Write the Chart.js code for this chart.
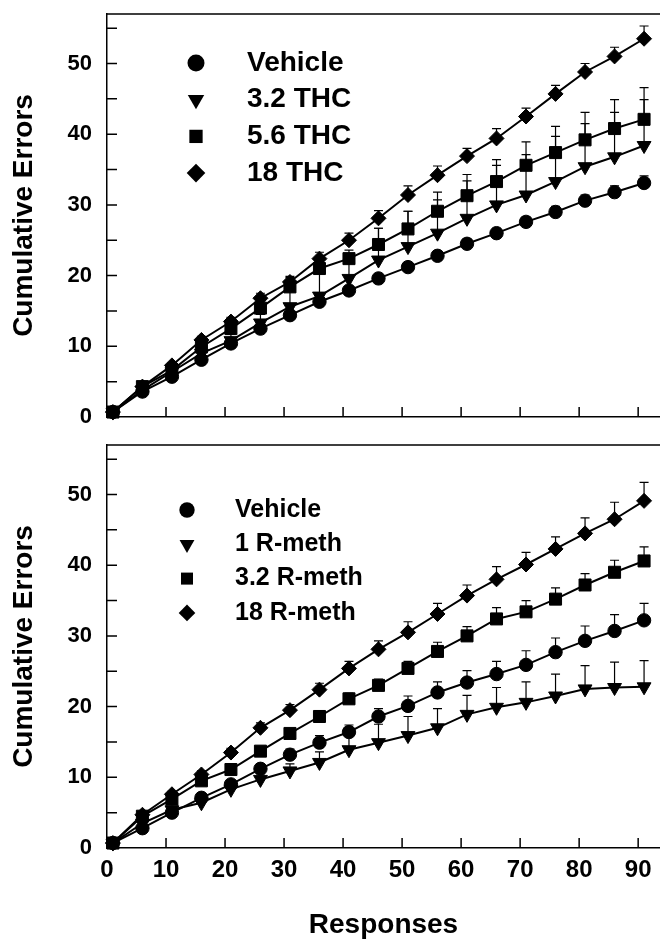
<!DOCTYPE html>
<html>
<head>
<meta charset="utf-8">
<script src="https://cdn.jsdelivr.net/npm/chart.js@4.4.1/dist/chart.umd.min.js"></script>
<style>
  html, body { margin: 0; padding: 0; background: #fff; }
  body { width: 660px; height: 945px; overflow: hidden; position: relative; }
  canvas { position: absolute; left: 0; }
  #topChart { top: 0; }
  #bottomChart { top: 430px; }
</style>
</head>
<body>
<canvas id="topChart" width="660" height="430"></canvas>
<canvas id="bottomChart" width="660" height="515"></canvas>
<script>
// x values: response number
const responses = [1, 6, 11, 16, 21, 26, 31, 36, 41, 46, 51, 56, 61, 66, 71, 76, 81, 86, 91];

// y axis range / tick step shared by both panels
const yMax = 57;
const yStep = 5;
const xMax = 93.7;
const xStep = 10;

// top panel: THC (mean cumulative errors, +SEM)
const thcLabels = ['Vehicle', '3.2 THC', '5.6 THC', '18 THC'];
const thcVehicle = [0.7, 3.6, 5.7, 8.1, 10.4, 12.5, 14.4, 16.3, 17.9, 19.6, 21.2, 22.8, 24.5, 26.0, 27.6, 29.0, 30.6, 31.8, 33.1];
const thc32 = [0.7, 3.8, 6.4, 9.0, 10.8, 13.3, 15.6, 17.1, 19.6, 22.2, 24.1, 26.0, 28.1, 30.0, 31.4, 33.3, 35.4, 36.8, 38.4];
const thc56 = [0.7, 4.3, 6.6, 9.9, 12.5, 15.4, 18.4, 21.0, 22.4, 24.4, 26.6, 29.1, 31.3, 33.3, 35.6, 37.4, 39.2, 40.8, 42.1];
const thc18 = [0.7, 4.3, 7.3, 10.9, 13.5, 16.8, 19.1, 22.4, 25.0, 28.1, 31.4, 34.2, 36.9, 39.4, 42.5, 45.7, 48.8, 51.0, 53.5];
const thcVehicleErr = [0.1, 0.2, 0.3, 0.3, 0.4, 0.4, 0.5, 0.5, 0.5, 0.6, 0.6, 0.6, 0.7, 0.7, 0.7, 0.8, 0.8, 0.9, 1.0];
const thc32Err = [0.2, 0.4, 0.5, 0.7, 0.9, 1.2, 2.5, 3.8, 3.0, 4.5, 5.0, 4.7, 5.3, 5.6, 5.7, 6.4, 6.1, 6.3, 6.5];
const thc56Err = [0.2, 0.4, 0.5, 0.7, 0.9, 1.1, 1.3, 1.0, 1.2, 2.3, 2.5, 2.7, 3.0, 3.1, 3.3, 3.7, 3.9, 4.1, 4.5];
const thc18Err = [0.2, 0.3, 0.4, 0.5, 0.6, 0.7, 0.8, 0.9, 1.0, 1.1, 1.3, 1.3, 1.1, 1.4, 1.2, 1.2, 1.2, 1.3, 1.8];

// bottom panel: R-methanandamide
const rmethLabels = ['Vehicle', '1 R-meth', '3.2 R-meth', '18 R-meth'];
const rVehicle = [0.7, 2.8, 5.0, 7.1, 9.0, 11.2, 13.2, 14.9, 16.4, 18.6, 20.1, 22.0, 23.4, 24.6, 25.9, 27.7, 29.3, 30.7, 32.2];
const r1 = [0.7, 3.5, 5.4, 6.4, 8.3, 9.7, 10.9, 12.1, 13.9, 14.9, 15.9, 17.0, 18.9, 19.9, 20.6, 21.5, 22.5, 22.7, 22.8];
const r32 = [0.7, 4.5, 6.9, 9.5, 11.1, 13.7, 16.2, 18.6, 21.1, 23.0, 25.4, 27.8, 30.0, 32.4, 33.4, 35.2, 37.2, 39.0, 40.6];
const r18 = [0.7, 4.7, 7.6, 10.4, 13.5, 17.0, 19.5, 22.4, 25.4, 28.1, 30.5, 33.1, 35.7, 38.0, 40.1, 42.3, 44.5, 46.5, 49.1];
const rVehicleErr = [0.2, 0.3, 0.4, 0.5, 0.6, 0.7, 0.8, 1.0, 1.0, 1.1, 1.4, 1.5, 1.7, 1.8, 2.0, 2.0, 2.1, 2.3, 2.4];
const r1Err = [0.2, 0.3, 0.4, 0.5, 0.6, 0.8, 1.0, 1.5, 2.0, 2.6, 2.7, 2.7, 2.7, 2.8, 2.9, 3.1, 3.3, 3.6, 3.7];
const r32Err = [0.2, 0.3, 0.4, 0.5, 0.5, 0.6, 0.7, 0.8, 0.8, 0.9, 1.0, 1.3, 1.3, 1.6, 1.6, 1.6, 1.6, 1.7, 2.0];
const r18Err = [0.2, 0.3, 0.4, 0.5, 0.6, 0.7, 0.8, 0.9, 1.0, 1.2, 1.5, 1.5, 1.5, 1.8, 1.7, 1.7, 2.2, 2.4, 2.6];

const FONT = '"Liberation Sans", Arial, Helvetica, sans-serif';
Chart.defaults.font.family = FONT;
Chart.defaults.color = '#000';

// marker styles (circle, down triangle, square, diamond)
const markerCircle = { pointStyle: 'circle', rotation: 0, radius: 6.7 };
const markerTriangle = { pointStyle: 'triangle', rotation: 180, radius: 8 };
const markerSquare = { pointStyle: 'rect', rotation: 0, radius: 8.5 };
const markerDiamond = { pointStyle: 'rectRot', rotation: 0, radius: 7.5 };

/**
 * Draw a marker by hand (used only for the legend), same shapes as Chart.js.
 */
function drawMarker(ctx, style, x, y, r) {
    ctx.beginPath();
    if (style === 'circle') {
        ctx.arc(x, y, r, 0, Math.PI * 2);
    } else if (style === 'triangle') {
        // pointing down
        ctx.moveTo(x, y + r);
        ctx.lineTo(x - r * 0.866, y - r * 0.5);
        ctx.lineTo(x + r * 0.866, y - r * 0.5);
        ctx.closePath();
    } else if (style === 'rect') {
        const s = r * Math.SQRT1_2;
        ctx.rect(x - s, y - s, 2 * s, 2 * s);
    } else if (style === 'rectRot') {
        ctx.moveTo(x, y - r);
        ctx.lineTo(x + r, y);
        ctx.lineTo(x, y + r);
        ctx.lineTo(x - r, y);
        ctx.closePath();
    }
    ctx.fill();
}

// upward-only error bars (+SEM), drawn under the markers
const errorBarPlugin = {
    id: 'errorBars',
    beforeDatasetsDraw(chart) {
        const { ctx, scales: { x, y } } = chart;
        ctx.save();
        ctx.strokeStyle = '#000';
        ctx.lineWidth = 1.2;
        chart.data.datasets.forEach((ds) => {
            if (!ds.errors) return;
            ds.data.forEach((pt, i) => {
                const px = x.getPixelForValue(pt.x);
                const py = y.getPixelForValue(pt.y);
                const top = y.getPixelForValue(pt.y + ds.errors[i]);
                ctx.beginPath();
                ctx.moveTo(px, py);
                ctx.lineTo(px, top);
                ctx.moveTo(px - 4.5, top);
                ctx.lineTo(px + 4.5, top);
                ctx.stroke();
            });
        });
        ctx.restore();
    }
};

// top border line and inward tick marks
const framePlugin = {
    id: 'frame',
    afterDraw(chart) {
        const { ctx, chartArea: { left, right, top, bottom }, scales: { x, y } } = chart;
        ctx.save();
        ctx.strokeStyle = '#000';
        ctx.lineWidth = 1.5;
        ctx.beginPath();
        ctx.moveTo(left, top);
        ctx.lineTo(right, top);
        x.ticks.forEach((t) => {
            if (t.value === 0) return;
            const p = x.getPixelForValue(t.value);
            ctx.moveTo(p, bottom);
            ctx.lineTo(p, bottom - 10);
        });
        y.ticks.forEach((t) => {
            if (t.value === 0) return;
            const p = y.getPixelForValue(t.value);
            ctx.moveTo(left, p);
            ctx.lineTo(left + 10, p);
        });
        ctx.stroke();
        ctx.restore();
    }
};

// legend drawn inside the plot area
const sideLegendPlugin = {
    id: 'sideLegend',
    afterDraw(chart, args, opts) {
        const { ctx } = chart;
        ctx.save();
        ctx.fillStyle = '#000';
        ctx.font = 'bold ' + opts.fontSize + 'px ' + FONT;
        ctx.textBaseline = 'middle';
        ctx.textAlign = 'left';
        chart.data.datasets.forEach((ds, i) => {
            const rowY = opts.y + i * opts.gap;
            drawMarker(ctx, ds.pointStyle, opts.markerX, rowY, opts.radius[ds.pointStyle]);
            ctx.fillText(ds.label, opts.textX, rowY);
        });
        ctx.restore();
    }
};

function makeDataset(label, values, errors, marker) {
    return {
        label: label,
        data: responses.map((r, i) => ({ x: r, y: values[i] })),
        errors: errors,
        borderColor: '#000',
        backgroundColor: '#000',
        borderWidth: 2,
        pointStyle: marker.pointStyle,
        pointRotation: marker.rotation,
        pointRadius: marker.radius,
        pointHoverRadius: marker.radius,
        pointBorderWidth: 1,
        pointBackgroundColor: '#000',
        pointBorderColor: '#000',
        tension: 0,
        clip: false
    };
}

function makeConfig(datasets, showXLabels, padding, legendOpts) {
    return {
        type: 'line',
        data: { datasets: datasets },
        plugins: [errorBarPlugin, framePlugin, sideLegendPlugin],
        options: {
            responsive: false,
            maintainAspectRatio: false,
            animation: false,
            devicePixelRatio: 1,
            layout: { padding: padding, autoPadding: false },
            plugins: {
                legend: { display: false },
                tooltip: { enabled: false },
                sideLegend: legendOpts
            },
            scales: {
                x: {
                    type: 'linear',
                    min: 0,
                    max: xMax,
                    ticks: {
                        display: showXLabels,
                        stepSize: xStep,
                        includeBounds: false,
                        padding: 8,
                        color: '#000',
                        font: { size: 24, weight: 'bold' }
                    },
                    grid: { display: false, drawTicks: false },
                    border: { display: true, color: '#000', width: 1.5 },
                    title: {
                        display: showXLabels,
                        text: 'Responses',
                        color: '#000',
                        font: { size: 28, weight: 'bold', lineHeight: 1 },
                        padding: { top: 0, bottom: 6 }
                    },
                    afterFit(scale) {
                        scale.height = showXLabels ? 97 : 0;
                        scale.paddingLeft = 0;
                        scale.paddingRight = 0;
                    }
                },
                y: {
                    min: 0,
                    max: yMax,
                    ticks: {
                        stepSize: yStep,
                        includeBounds: false,
                        padding: 15,
                        color: '#000',
                        font: { size: 22, weight: 'bold' },
                        callback: (v) => (v % 10 === 0 ? v : '')
                    },
                    grid: { display: false, drawTicks: false },
                    border: { display: true, color: '#000', width: 1.5 },
                    title: {
                        display: true,
                        text: 'Cumulative Errors',
                        color: '#000',
                        font: { size: 28, weight: 'bold' },
                        padding: { top: 7, bottom: 0 }
                    },
                    afterFit(scale) {
                        scale.width = 107;
                        scale.paddingTop = 0;
                        scale.paddingBottom = 0;
                    }
                }
            }
        }
    };
}

const topDatasets = [
    makeDataset(thcLabels[0], thcVehicle, thcVehicleErr, markerCircle),
    makeDataset(thcLabels[1], thc32, thc32Err, markerTriangle),
    makeDataset(thcLabels[2], thc56, thc56Err, markerSquare),
    makeDataset(thcLabels[3], thc18, thc18Err, markerDiamond)
];

const bottomDatasets = [
    makeDataset(rmethLabels[0], rVehicle, rVehicleErr, markerCircle),
    makeDataset(rmethLabels[1], r1, r1Err, markerTriangle),
    makeDataset(rmethLabels[2], r32, r32Err, markerSquare),
    makeDataset(rmethLabels[3], r18, r18Err, markerDiamond)
];

new Chart(document.getElementById('topChart'), makeConfig(
    topDatasets, false,
    { top: 14, bottom: 13, left: 0, right: 0 },
    { markerX: 196, textX: 247, y: 63, gap: 36.7, fontSize: 28,
      radius: { circle: 8.5, triangle: 9.5, rect: 9.4, rectRot: 9.3 } }
));

new Chart(document.getElementById('bottomChart'), makeConfig(
    bottomDatasets, true,
    { top: 15, bottom: 0, left: 0, right: 0 },
    { markerX: 187, textX: 235, y: 80, gap: 34.3, fontSize: 25,
      radius: { circle: 7.7, triangle: 8.6, rect: 8.5, rectRot: 8.3 } }
));
</script>
</body>
</html>
